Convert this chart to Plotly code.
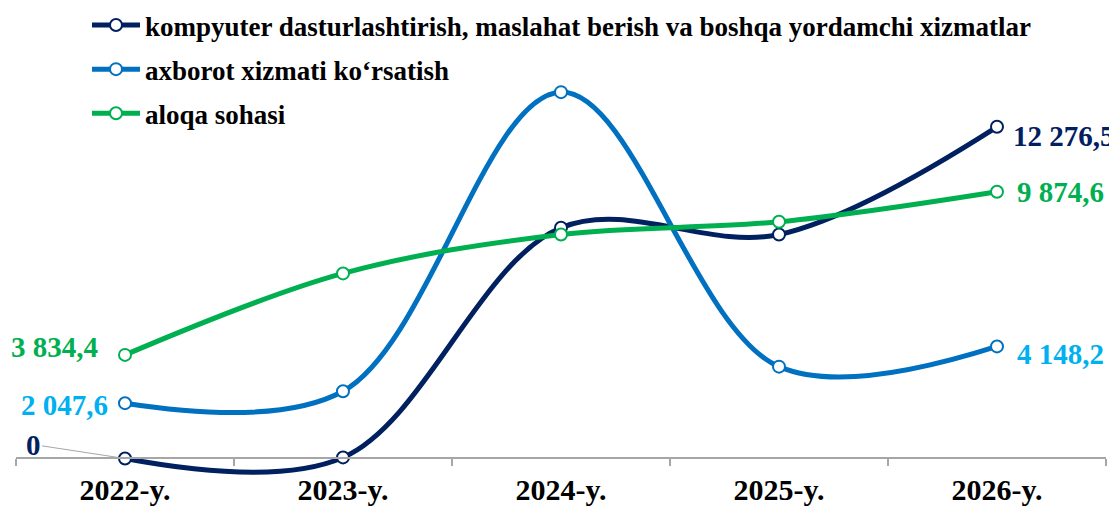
import plotly.graph_objects as go

categories = ["2022-y.", "2023-y.", "2024-y.", "2025-y.", "2026-y."]
names = [
    "kompyuter dasturlashtirish, maslahat berish va boshqa yordamchi xizmatlar",
    "axborot xizmati ko‘rsatish",
    "aloqa sohasi",
]
kompyuter = [0, 40, 8540, 8290, 12276.5]
axborot = [2047.6, 2490, 13560, 3400, 4148.2]
aloqa = [3834.4, 6850, 8290, 8760, 9874.6]

line_colors = ["#002060", "#0070C0", "#00B050"]
label_colors = ["#002060", "#00B0F0", "#00B050"]
series = [kompyuter, axborot, aloqa]

FONT = "Liberation Serif"
LBL = 29


def fmt(v):
    if v == 0:
        return "0"
    return f"{v:,.1f}".replace(",", " ").replace(".", ",")


fig = go.Figure()
for i, (name, vals) in enumerate(zip(names, series)):
    fig.add_trace(go.Scatter(
        x=categories, y=vals, name=name, mode="lines+markers",
        line=dict(color=line_colors[i], width=5, shape="spline", smoothing=1.0),
        marker=dict(size=12, color="white", line=dict(color=line_colors[i], width=2)),
        legendgroup=f"g{i}", cliponaxis=False,
    ))

ymin, ymax = -1166, 14749
axis_pos = (0 - ymin) / (ymax - ymin)

annotations = []
first_shift = [None, (-15, -2), (-25, 8)]
last_shift = [(14, -9), (18, -8), (18, 0)]
for i, vals in enumerate(series):
    lx, ly = last_shift[i]
    annotations.append(dict(
        x=categories[-1], y=vals[-1], xref="x", yref="y", text=fmt(vals[-1]),
        showarrow=False, xanchor="left", yanchor="middle", xshift=lx, yshift=ly,
        font=dict(family=FONT, size=LBL, color=label_colors[i], weight="bold"),
    ))
    if first_shift[i] is not None:
        fx, fy = first_shift[i]
        annotations.append(dict(
            x=categories[0], y=vals[0], xref="x", yref="y", text=fmt(vals[0]),
            showarrow=False, xanchor="right", yanchor="middle", xshift=fx, yshift=fy,
            font=dict(family=FONT, size=LBL, color=label_colors[i], weight="bold"),
        ))
    else:
        annotations.append(dict(
            x=categories[0], y=vals[0], xref="x", yref="y", text=fmt(vals[0]),
            showarrow=True, arrowhead=0, arrowwidth=1, arrowcolor="#A6A6A6",
            ax=-92, ay=-14, standoff=0,
            font=dict(family=FONT, size=LBL, color=label_colors[i], weight="bold"),
        ))

plot_h = 509 - 52 - 27
legend_top_fig = -7  # desired legend box top, figure px

fig.update_layout(
    width=1117, height=509,
    margin=dict(l=8, r=19, t=52, b=27, autoexpand=False),
    paper_bgcolor="white", plot_bgcolor="white",
    font=dict(family=FONT, size=24, color="black", weight="bold"),
    showlegend=True,
    legend=dict(
        xref="container", yref="paper", x=79 / 1117, y=1 + (52 - legend_top_fig) / plot_h,
        xanchor="left", yanchor="top", orientation="v",
        traceorder="grouped", tracegroupgap=6,
        font=dict(family=FONT, size=27, color="black", weight="bold"),
        bgcolor="rgba(0,0,0,0)", itemwidth=48,
    ),
    xaxis=dict(
        type="category", categoryorder="array", categoryarray=categories,
        range=[-0.5, 4.5], anchor="free", position=axis_pos,
        showline=True, linecolor="#A6A6A6", linewidth=1.5,
        ticks="outside", tickson="boundaries", ticklen=7, tickcolor="#A6A6A6", tickwidth=1.5,
        showgrid=False, zeroline=False, automargin=False, tickangle=0,
        ticklabelstandoff=5,
        tickfont=dict(family=FONT, size=30, color="black", weight="bold"),
    ),
    yaxis=dict(range=[ymin, ymax], visible=False, showgrid=False, zeroline=False),
    annotations=annotations,
)

fig.write_html("out.html")
